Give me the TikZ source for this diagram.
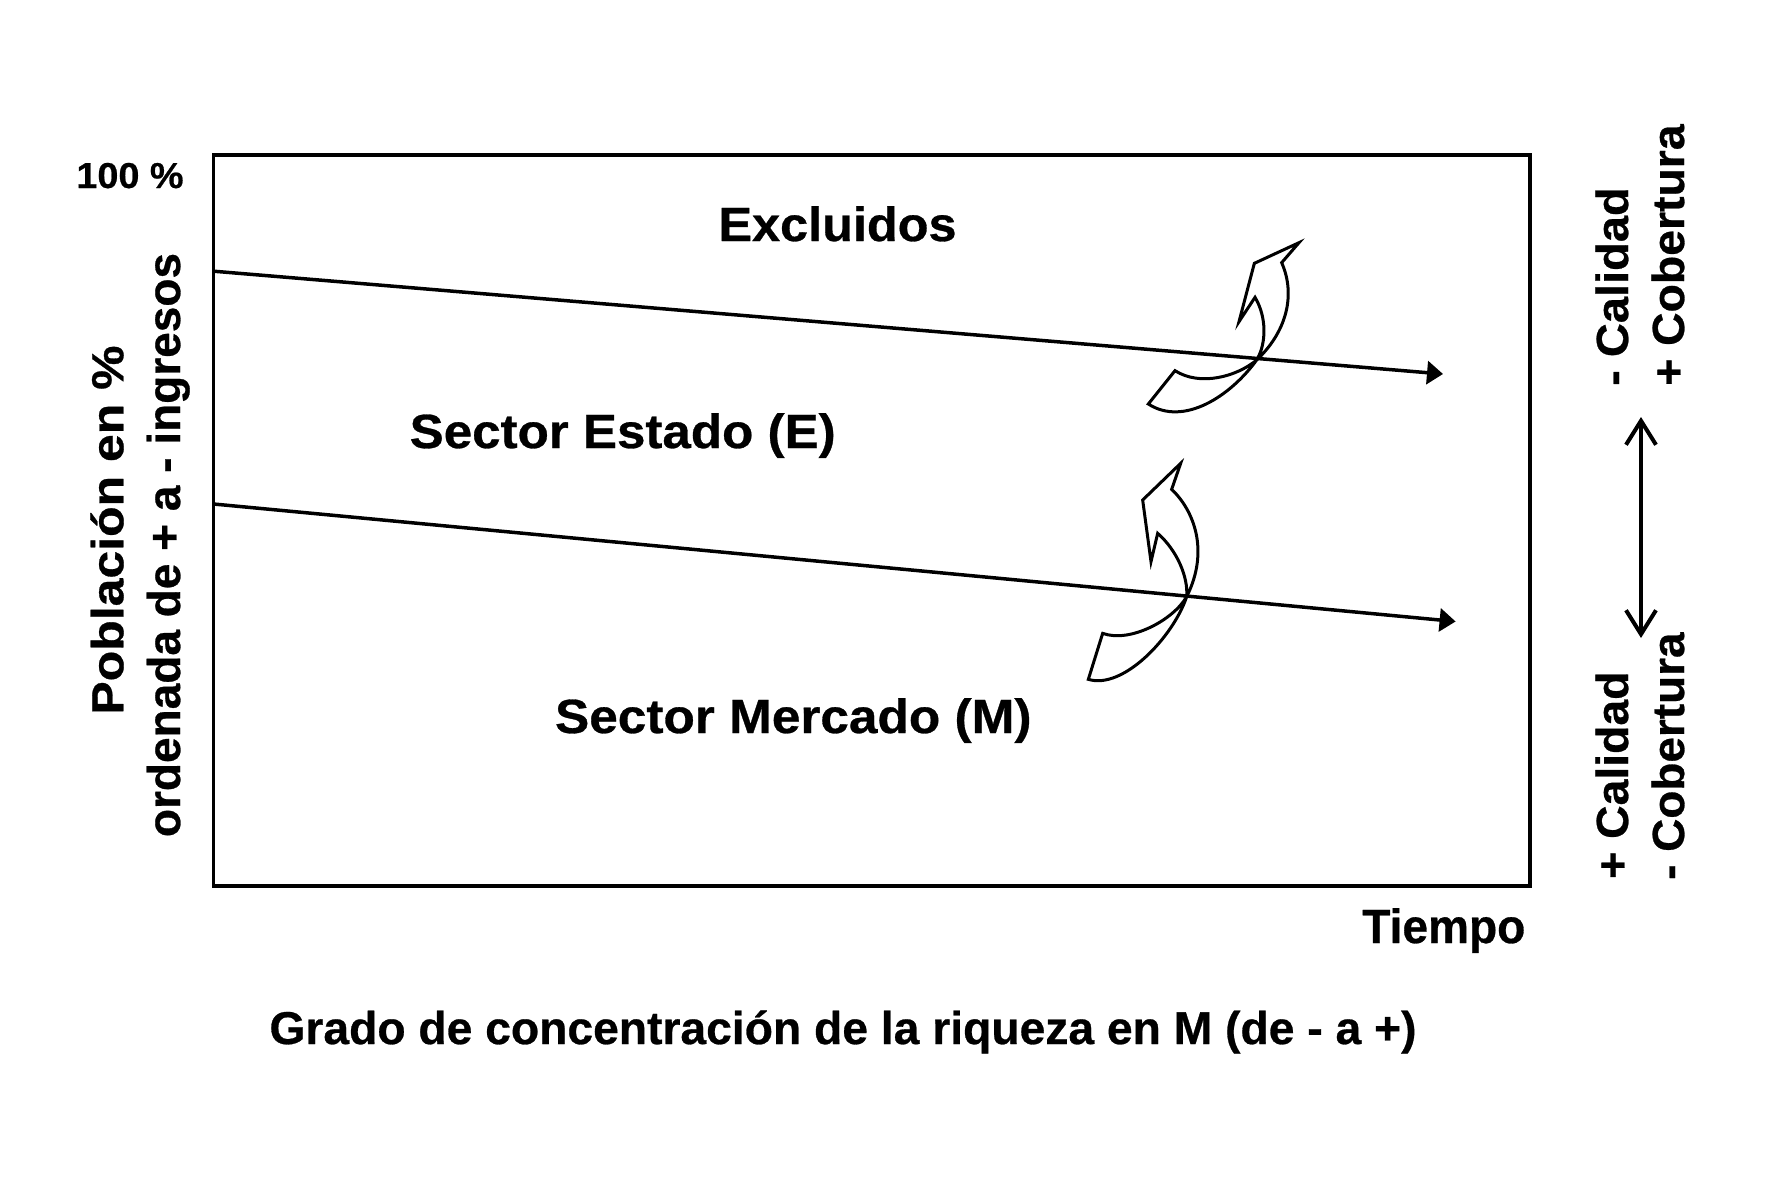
\documentclass[tikz,border=0pt]{standalone}
\usepackage{fontspec}
\setmainfont{Liberation Sans}[BoldFeatures={FakeBold=0.6}]
\usetikzlibrary{arrows.meta}
\newcommand\mytxt[3]{\fontsize{#1}{#1}\selectfont\bfseries\scalebox{#2}[1]{#3}}
\begin{document}
\begin{tikzpicture}[x=1pt,y=-1pt,
  frame/.style={line width=3.5pt},
  trend/.style={line width=3.5pt,-{Triangle[length=16pt,width=23pt]}},
  curv/.style={line width=3pt,line join=miter},
  lbl/.style={inner sep=0pt,text=black},
  dbl/.style={line width=4pt,{Straight Barb[length=24pt,width=30pt]}-{Straight Barb[length=24pt,width=30pt]}}]
\path[use as bounding box,fill=white] (0,0) rectangle (1772,1181);
% frame
\draw[frame] (213.6,154.8) rectangle (1530.2,886);
% trend lines
\coordinate (u1) at (213.6,271.2);
\coordinate (u2) at (1443,374);
\coordinate (m1) at (213.6,504);
\coordinate (m2) at (1455.6,621.5);
\draw[trend] (u1) -- (u2);
\draw[trend] (m1) -- (m2);
% curved arrow 1
\begin{scope}[shift={(1120,220)},scale=0.33333]
\draw[curv] (537,68) -- (485,128) .. controls (530,230) and (495,340) .. (410,420)
  .. controls (330,530) and (190,620) .. (85,552) -- (165,452)
  .. controls (240,500) and (350,470) .. (410,420)
  .. controls (440,370) and (440,290) .. (405,232) -- (357,305) -- (403,130) -- cycle;
\end{scope}
% curved arrow 2
\begin{scope}[shift={(1060,450)},scale=0.33333]
\draw[curv] (362,40) -- (335,118) .. controls (400,180) and (450,300) .. (380,440)
  .. controls (340,560) and (190,720) .. (85,688) -- (128,550)
  .. controls (210,580) and (340,510) .. (380,440)
  .. controls (385,380) and (350,300) .. (293,250) -- (273,335) -- (248,150) -- cycle;
\end{scope}
% labels
\node[lbl,anchor=base] (p100) at (130,188) {\mytxt{36}{1.05}{100 \%}};
\node[lbl,anchor=base] (excl) at (837.5,241) {\mytxt{48}{1.05}{Excluidos}};
\node[lbl,anchor=base] (estado) at (622.7,448) {\mytxt{48}{1.065}{Sector Estado (E)}};
\node[lbl,anchor=base] (merc) at (793.3,733) {\mytxt{48}{1.07}{Sector Mercado (M)}};
\node[lbl,anchor=base] (tiempo) at (1443.8,943) {\mytxt{48}{0.96}{Tiempo}};
\node[lbl,anchor=base] (grado) at (843,1044) {\mytxt{46}{1.005}{Grado de concentración de la riqueza en M (de - a +)}};
\node[lbl,anchor=base,rotate=90] (pob) at (123.3,530) {\mytxt{45}{1.11}{Población en \%}};
\node[lbl,anchor=base,rotate=90] (ord) at (180,545) {\mytxt{46}{1.0}{ordenada de + a - ingresos}};
\node[lbl,anchor=base west,rotate=90] (mcal) at (1628,386) {\mytxt{45}{1.045}{- Calidad}};
\node[lbl,anchor=base west,rotate=90] (pcob) at (1684,386) {\mytxt{45}{1.03}{+ Cobertura}};
\node[lbl,anchor=base west,rotate=90] (pcal) at (1628,879) {\mytxt{45}{1.03}{+ Calidad}};
\node[lbl,anchor=base west,rotate=90] (mcob) at (1684,880) {\mytxt{45}{1.02}{- Cobertura}};
% double arrow
\coordinate (da1) at (1641,417);
\coordinate (da2) at (1641,638);
\draw[dbl] (da1) -- (da2);
\end{tikzpicture}
\end{document}
